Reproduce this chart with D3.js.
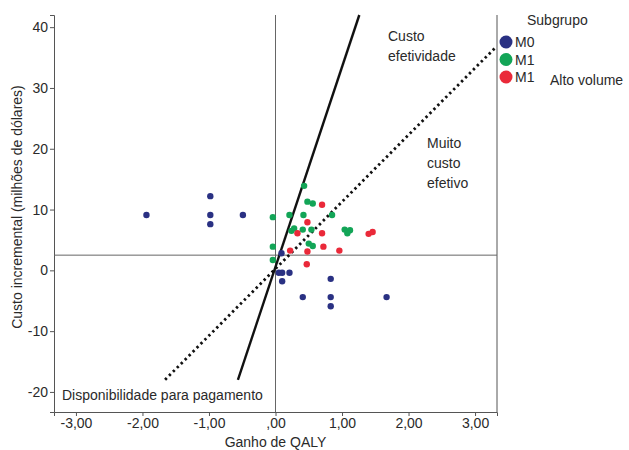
<!DOCTYPE html>
<meta charset="utf-8">
<style>
body { margin: 0; background: #fff; }
text { font-family: "Liberation Sans", Arial, sans-serif; fill: #2a2a2a; }
.axis path, .axis line { stroke: #555; }
.axis text { font-size: 14px; fill: #2a2a2a; }
</style>
<body>
<div id="chart"></div>
<script src="https://d3js.org/d3.v7.min.js"></script>
<script>
// values
var xTicks = [-3, -2, -1, 0, 1, 2, 3];
var yTicks = [-20, -10, 0, 10, 20, 30, 40];

var m0X = [-1.94, -0.98, -0.98, -0.98, -0.49, 0.05, 0.10, 0.21, 0.10, 0.83, 0.41, 0.83, 0.83, 1.67, 0.09];
var m0Y = [9.1, 12.2, 9.1, 7.6, 9.1, -0.4, -0.4, -0.4, -1.8, -1.4, -4.4, -4.4, -5.9, -4.4, 2.8];

var m1X = [0.43, 0.48, 0.56, -0.04, 0.21, 0.42, 0.85, 0.24, 0.28, 0.41, 0.54, 1.04, 1.12, 1.08, 0.50, 0.56, -0.04, -0.04];
var m1Y = [13.9, 11.3, 11.0, 8.75, 9.1, 9.1, 9.1, 6.5, 6.9, 6.7, 6.7, 6.7, 6.6, 6.1, 4.4, 4.0, 3.9, 1.7];

var m1avX = [0.70, 0.48, 0.33, 0.70, 1.40, 1.46, 0.72, 0.48, 0.96, 0.22, 0.47];
var m1avY = [10.8, 7.9, 6.1, 6.1, 6.0, 6.3, 3.9, 3.1, 3.25, 3.25, 1.0];

var refX = 0, refY = 2.5;
var solidX = [-0.565, 1.26], solidY = [-18, 42];
var dotX = [-1.66, 3.32], dotY = [-18, 36.8];

var legendLabels = ["M0", "M1", "M1"];
var colors = ["#2a3183", "#13a557", "#ea2939"];

var width = 629, height = 450;
var margin = {top: 15, right: 132, bottom: 38, left: 54};

var svg = d3.select("#chart").append("svg")
  .attr("width", width).attr("height", height);

var x = d3.scaleLinear().domain([-3.33, 3.33]).range([margin.left, width - margin.right]);
var y = d3.scaleLinear().domain([-23.3, 42]).range([height - margin.bottom, margin.top]);

var fmtX = function(d) { return d === 0 ? ",00" : d3.format(".2f")(d).replace(".", ",").replace("\u2212", "-"); };
var fmtY = function(d) { return String(d); };

svg.append("g").attr("class", "axis")
  .attr("transform", "translate(0," + (height - margin.bottom) + ")")
  .call(d3.axisBottom(x).tickValues(xTicks).tickFormat(fmtX).tickSizeOuter(0).tickSize(4).tickPadding(2));

svg.append("g").attr("class", "axis")
  .attr("transform", "translate(" + margin.left + ",0)")
  .call(d3.axisLeft(y).tickValues(yTicks).tickFormat(fmtY).tickSizeOuter(0).tickSize(4).tickPadding(2));

// right border
svg.append("line")
  .attr("x1", x.range()[1]).attr("x2", x.range()[1])
  .attr("y1", y.range()[1]).attr("y2", y.range()[0])
  .attr("stroke", "#555");

// reference lines
svg.append("line")
  .attr("x1", x(refX)).attr("x2", x(refX))
  .attr("y1", y.range()[1]).attr("y2", y.range()[0])
  .attr("stroke", "#666");
svg.append("line")
  .attr("x1", x.range()[0]).attr("x2", x.range()[1])
  .attr("y1", y(refY)).attr("y2", y(refY))
  .attr("stroke", "#666");

// willingness to pay lines
svg.append("line")
  .attr("x1", x(solidX[0])).attr("y1", y(solidY[0]))
  .attr("x2", x(solidX[1])).attr("y2", y(solidY[1]))
  .attr("stroke", "#111").attr("stroke-width", 2.4);
svg.append("line")
  .attr("x1", x(dotX[0])).attr("y1", y(dotY[0]))
  .attr("x2", x(dotX[1])).attr("y2", y(dotY[1]))
  .attr("stroke", "#111").attr("stroke-width", 2.8)
  .attr("stroke-dasharray", "2.4,3.2");

// points
var groups = [[m0X, m0Y], [m1X, m1Y], [m1avX, m1avY]];
groups.forEach(function(g, i) {
  svg.append("g").selectAll("circle")
    .data(d3.range(g[0].length))
    .enter().append("circle")
      .attr("cx", function(j) { return x(g[0][j]); })
      .attr("cy", function(j) { return y(g[1][j]); })
      .attr("r", 3.2)
      .attr("fill", colors[i]);
});

// annotations
function multi(lines, tx, ty, lh) {
  var t = svg.append("text").attr("font-size", 14);
  lines.forEach(function(s, i) {
    t.append("tspan").attr("x", tx).attr("y", ty + i * lh).text(s);
  });
}
multi(["Custo", "efetividade"], 388, 41, 20);
multi(["Muito", "custo", "efetivo"], 427, 148, 20);
svg.append("text").attr("x", 62).attr("y", 400).attr("font-size", 14).text("Disponibilidade para pagamento");

// axis titles
svg.append("text").attr("x", x(0)).attr("y", 447).attr("text-anchor", "middle")
  .attr("font-size", 14).text("Ganho de QALY");
svg.append("text")
  .attr("transform", "translate(22," + 207 + ") rotate(-90)")
  .attr("text-anchor", "middle").attr("font-size", 14)
  .text("Custo incremental (milhões de dólares)");

// legend
svg.append("text").attr("x", 527).attr("y", 25).attr("font-size", 14).text("Subgrupo");
legendLabels.forEach(function(l, i) {
  var cy = 42 + i * 17.5;
  svg.append("circle").attr("cx", 506).attr("cy", cy).attr("r", 6.5).attr("fill", colors[i]);
  svg.append("text").attr("x", 515).attr("y", cy + 5).attr("font-size", 14).text(l);
});
svg.append("text").attr("x", 550).attr("y", 85).attr("font-size", 14).text("Alto volume");
</script>
</body>
